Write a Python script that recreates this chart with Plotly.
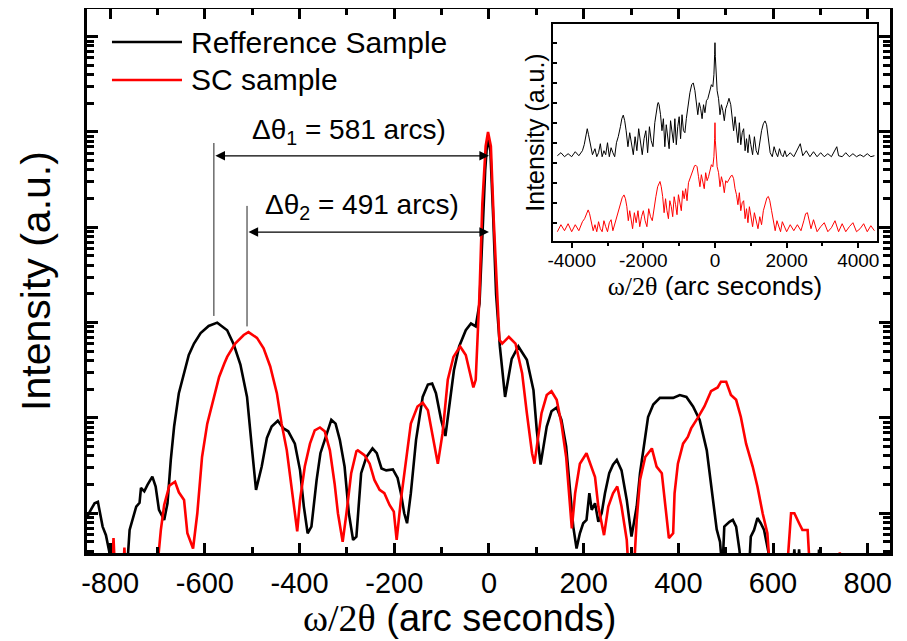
import plotly.graph_objects as go

# ---------------- main panel data (x in arc seconds, log10 intensity) ----------------
ref_x = [-849, -845, -833, -826, -816, -809, -802, -797, -766, -759, -745, -738, -735, -728, -721,
         -711, -704, -697, -686, -679, -672, -665, -655, -644, -634, -623, -609, -592, -574,
         -553, -539, -525, -511, -501, -492, -480, -469, -459, -446, -434, -424, -410, -399,
         -391, -383, -375, -364, -356, -343, -333, -324, -315, -305, -296, -287, -280, -270,
         -259, -246, -237, -227, -217, -203, -193, -186, -179, -173, -165, -154, -140, -129,
         -120, -112, -101, -92, -84, -74, -63, -49, -38, -28, -20, -14, -8, -3, 3, 9, 15, 23,
         34, 48, 62, 80, 94, 101, 109, 122, 132, 143, 153, 163, 171, 178, 185, 192, 199, 206,
         212, 217, 224, 231, 238, 245, 254, 262, 270, 280, 291, 301, 312, 319, 330, 336, 347,
         361, 375, 389, 403, 417, 431, 445, 460, 470, 481, 488, 493, 497, 508, 515, 522, 529,
         535, 548, 553, 560, 567, 574, 581, 590, 596, 640, 645, 650, 655, 660, 695, 697, 700,
         847]
ref_log = [-0.05, 0.0, 0.105, 0.12, -0.14, -0.23, -0.40, -0.7, -0.7, -0.175, 0.07, 0.11, 0.265, 0.23, 0.30,
           0.385, 0.28, 0.035, -0.07, 0.105, 0.56, 0.91, 1.26, 1.47, 1.66, 1.78, 1.89, 1.965, 2.0,
           1.92, 1.77, 1.56, 1.22, 0.70, 0.245, 0.49, 0.79, 0.91, 0.97, 0.89, 0.86, 0.73, 0.45,
           0.07, -0.21, -0.14, 0.35, 0.63, 0.84, 0.98, 0.94, 0.77, 0.49, 0.0, -0.28, -0.245, 0.42,
           0.59, 0.68, 0.63, 0.47, 0.45, 0.46, 0.37, 0.21, 0.0, -0.105, 0.21, 0.77, 1.22, 1.35,
           1.36, 1.26, 0.98, 0.81, 1.12, 1.50, 1.75, 1.92, 1.99, 1.96, 2.2, 3.0, 3.6, 3.95, 3.8, 3.1, 2.3, 1.75,
           1.22, 1.62, 1.75, 1.61, 1.29, 0.87, 0.51, 0.91, 1.07, 1.11, 0.98, 0.70, 0.28, -0.14, -0.37, -0.21, -0.105, -0.07,
           0.21, 0.035, 0.105, -0.09, 0.0, 0.21, 0.42, 0.51, 0.56, 0.45, 0.14, -0.245, 0.07, 0.42, 0.80, 1.01, 1.14,
           1.21, 1.21, 1.21, 1.24, 1.22, 1.12, 0.98, 0.66, 0.25, -0.17, -0.30, -0.6, -0.14, -0.09, -0.07, -0.14, -0.385,
           -0.7, -0.7, -0.245, -0.175, -0.05, -0.105, -0.175, -0.40, -0.7, -0.7, -0.38, -0.7, -0.38, -0.7, -0.7, -0.38, -0.7,
           -0.7]

sc_x = [-849, -797, -793, -789, -773, -770, -767, -703, -693, -686, -675, -663, -655, -644, -637, -625,
        -616, -606, -595, -581, -570, -559, -553, -536, -518, -508, -490, -476, -462, -448, -438,
        -427, -417, -410, -405, -399, -389, -378, -368, -357, -347, -336, -326, -319, -309, -301,
        -291, -280, -277, -263, -252, -242, -231, -221, -210, -201, -195, -186, -175, -165, -151,
        -140, -129, -119, -108, -98, -87, -75, -61, -49, -38, -33, -28, -24, -20, -14, -7, -2, 4,
        10, 16, 22, 28, 42, 56, 70, 80, 91, 96, 104, 111, 122, 132, 143, 153, 163, 170, 175, 182,
        192, 206, 217, 224, 231, 243, 252, 262, 271, 280, 291, 296, 305, 312, 319, 330, 344, 354,
        365, 372, 380, 389, 392, 399, 410, 420, 427, 441, 455, 469, 483, 490, 501, 511, 522, 532,
        543, 557, 567, 578, 583, 588, 595, 628, 638, 645, 655, 662, 673, 679, 738, 741, 744, 847]
sc_log = [-0.7, -0.7, -0.26, -0.7, -0.7, -0.36, -0.7, -0.7, -0.175, 0.087, 0.29, 0.33, 0.22, 0.14, -0.21, -0.37,
          0.0, 0.59, 0.94, 1.22, 1.43, 1.57, 1.64, 1.78, 1.87, 1.90, 1.84, 1.73, 1.54, 1.26, 0.94,
          0.66, 0.28, -0.035, -0.19, 0.14, 0.49, 0.73, 0.87, 0.90, 0.86, 0.66, 0.31, 0.0, -0.30, 0.0,
          0.42, 0.65, 0.66, 0.61, 0.52, 0.35, 0.245, 0.21, 0.087, 0.017, -0.28, 0.14, 0.59, 0.94, 1.12,
          1.16, 1.08, 0.80, 0.52, 0.84, 1.40, 1.64, 1.75, 1.66, 1.43, 1.32, 1.40, 1.8, 2.3, 3.25, 3.85, 4.0, 3.85,
          3.08, 2.38, 1.82, 1.78, 1.85, 1.78, 1.47, 1.05, 0.63, 0.52, 0.80, 1.05, 1.24, 1.28, 1.19, 0.94, 0.59, 0.17, -0.16, 0.21,
          0.52, 0.63, 0.49, 0.38, 0.07, -0.23, 0.07, 0.21, 0.28, 0.07, -0.28, -0.7, -0.7, -0.07, 0.35, 0.59, 0.68, 0.49,
          0.42, 0.07, -0.26, -0.21, 0.21, 0.52, 0.73, 0.80, 0.89, 1.0, 1.12, 1.28, 1.32, 1.38, 1.38, 1.24, 1.19, 1.01,
          0.73, 0.49, 0.28, 0.0, -0.09, -0.21, -0.7, -0.7, 0.0, 0.0, -0.105, -0.175, -0.175, -0.7, -0.7, -0.41, -0.7, -0.7]

# ---------------- inset data (x in arc seconds, log10 intensity, offset curves) ----------------
in_ref_x = [-4400, -4300, -4200, -4100, -4000, -3900, -3800, -3700, -3650, -3600, -3565, -3530, -3480, -3420,
            -3350, -3300, -3250, -3200, -3150, -3100, -3050, -3000, -2950, -2900, -2850, -2800, -2750, -2700,
            -2640, -2600, -2560, -2520, -2480, -2430, -2380, -2330, -2280, -2230, -2180, -2130, -2080, -2030,
            -1980, -1930, -1880, -1830, -1780, -1730, -1680, -1640, -1600, -1584, -1560, -1520, -1480, -1440,
            -1400, -1360, -1320, -1280, -1240, -1200, -1160, -1120, -1080, -1040, -1000, -960, -920, -880,
            -840, -800, -760, -700, -650, -606, -560, -520, -480, -440, -400, -360, -320, -280, -240, -200,
            -150, -100, -60, -30, -10, 0, 10, 30, 60, 100, 140, 180, 220, 260, 300, 340, 391, 440, 480, 520,
            560, 600, 640, 680, 720, 760, 800, 840, 880, 920, 960, 1000, 1050, 1100, 1150, 1200, 1250, 1300,
            1350, 1397, 1440, 1490, 1540, 1600, 1650, 1700, 1750, 1800, 1850, 1900, 1950, 2000, 2100, 2200,
            2300, 2380, 2450, 2550, 2650, 2750, 2850, 2950, 3050, 3150, 3250, 3350, 3400, 3450, 3550, 3650,
            3750, 3850, 3950, 4050, 4150, 4250, 4350, 4450]
in_ref_log = [3.35, 3.5, 3.3, 3.45, 3.3, 3.55, 3.35, 3.6, 3.9, 4.4, 4.7, 4.4, 3.9, 3.4,
              3.7, 3.3, 3.5, 3.95, 3.3, 3.6, 3.4, 4.0, 3.3, 3.75, 3.5, 3.3, 4.0, 4.3,
              4.8, 5.2, 5.38, 5.1, 4.6, 3.8, 4.5, 4.0, 3.4, 4.3, 3.6, 4.7, 3.9, 3.4,
              4.2, 4.6, 3.5, 4.8, 4.1, 3.8, 5.0, 5.6, 5.95, 6.01, 5.9, 5.4, 4.6, 5.2,
              3.8, 4.9, 4.4, 3.7, 5.1, 4.6, 4.0, 5.2, 3.9, 4.8, 5.3, 4.2, 5.4, 4.6,
              4.5, 5.2, 5.8, 6.5, 6.9, 6.99, 6.6, 5.8, 5.4, 6.0, 5.7, 5.2, 5.9, 5.5, 6.1, 6.2,
              6.6, 6.9, 6.8, 7.4, 8.4, 9.0, 8.3, 7.3, 6.6, 6.2, 5.4, 5.9, 5.6, 5.1, 5.7, 5.9, 6.22, 5.9, 5.1, 4.6,
              5.3, 4.6, 4.0, 5.0, 3.9, 4.5, 4.7, 3.6, 4.2, 3.5, 4.4, 3.9, 3.4, 4.3, 3.6, 3.4, 4.1, 4.6,
              4.95, 5.09, 4.9, 4.3, 3.5, 3.3, 3.8, 3.5, 3.3, 3.7, 3.4, 3.3, 3.6, 3.3, 3.5, 3.3,
              3.7, 3.95, 3.35, 3.6, 3.3, 3.55, 3.3, 3.5, 3.3, 3.45, 3.3, 3.6, 3.8, 3.35, 3.3, 3.5,
              3.3, 3.45, 3.3, 3.4, 3.3, 3.45, 3.3, 3.35]

in_sc_x = [-4400, -4300, -4200, -4100, -4000, -3900, -3800, -3700, -3640, -3580, -3540, -3500, -3450, -3400,
           -3350, -3300, -3250, -3200, -3150, -3100, -3050, -3000, -2950, -2900, -2850, -2800, -2750, -2700,
           -2640, -2590, -2540, -2500, -2460, -2420, -2380, -2340, -2300, -2250, -2200, -2150, -2100, -2050,
           -2000, -1950, -1900, -1850, -1800, -1750, -1700, -1650, -1600, -1560, -1535, -1500, -1460, -1420,
           -1380, -1340, -1300, -1260, -1220, -1180, -1140, -1100, -1060, -1020, -980, -940, -900, -860,
           -820, -780, -740, -680, -620, -570, -532, -500, -460, -420, -380, -340, -300, -260, -220, -180,
           -140, -100, -60, -30, -10, 0, 10, 30, 60, 100, 140, 180, 220, 260, 300, 340, 400, 450, 482, 520,
           560, 600, 640, 680, 720, 760, 800, 840, 880, 920, 960, 1000, 1050, 1100, 1150, 1200, 1250, 1300,
           1350, 1400, 1450, 1490, 1530, 1580, 1630, 1680, 1730, 1780, 1830, 1880, 1950, 2000, 2100, 2200,
           2300, 2400, 2480, 2530, 2580, 2620, 2680, 2750, 2850, 2950, 3050, 3150, 3250, 3350, 3450, 3550,
           3650, 3750, 3850, 3950, 4050, 4150, 4250, 4350, 4450]
in_sc_log = [-0.45, -0.1, -0.4, -0.05, -0.45, -0.1, -0.4, 0.05, 0.2, 0.5, 0.64, 0.45, 0.1, -0.4,
             -0.1, -0.45, 0.05, -0.3, -0.45, 0.1, -0.2, -0.45, 0.0, 0.15, -0.4, -0.1, 0.3, 0.5,
             0.9, 1.25, 1.39, 1.2, 0.8, 0.1, 0.6, 0.2, -0.3, 0.5, 0.0, 0.6, -0.2, 0.3,
             0.6, 0.1, -0.2, 0.7, 0.3, 0.1, 0.8, 1.3, 1.8, 2.0, 2.06, 1.8, 1.3, 0.5,
             1.2, 0.6, 0.2, 1.1, 0.8, 0.3, 1.3, 0.9, 0.4, 1.4, 1.0, 0.6, 1.6, 1.2,
             1.7, 1.1, 2.0, 2.3, 2.7, 2.85, 2.87, 2.8, 2.3, 1.8, 2.4, 2.0, 1.7, 2.5, 2.1, 2.3,
             2.6, 2.9, 2.8, 3.3, 4.2, 5.0, 4.1, 3.2, 2.8, 2.5, 1.8, 2.3, 2.0, 1.5, 2.1, 2.0, 2.2, 2.35, 2.37, 2.2,
             1.7, 1.4, 0.9, 1.5, 0.6, 1.0, 1.1, 0.2, 0.7, 0.0, 0.8, 0.3, -0.2, 0.5, 0.1, -0.3, 0.3, -0.1,
             0.6, 1.0, 1.25, 1.31, 1.1, 0.6, 0.0, -0.4, 0.1, -0.2, -0.45, 0.05, -0.3, -0.45, -0.1, -0.4,
             -0.1, -0.4, 0.1, 0.45, 0.5, 0.2, -0.3, 0.15, -0.45, -0.2, 0.0, -0.45, -0.25, 0.1, -0.45, -0.05,
             -0.45, -0.2, 0.0, -0.45, -0.3, -0.05, -0.45, -0.15, -0.4]

x_tick_vals = [-800, -600, -400, -200, 0, 200, 400, 600, 800]
x_tick_text = ["-800", "-600", "-400", "-200", "0", "200", "400", "600", "800"]
x_minor_vals = [-700, -500, -300, -100, 100, 300, 500, 700]
in_tick_vals = [-4000, -2000, 0, 2000, 4000]
in_tick_text = ["-4000", "-2000", "0", "2000", "4000"]
in_minor_vals = [-3000, -1000, 1000, 3000]

series_names = ["Refference Sample", "SC sample"]
colors = ["#000000", "#ff0000"]

FONT = "Liberation Sans, Arial, sans-serif"
XTITLE = "<span style='font-family:Liberation Serif'>ω/2θ</span> (arc seconds)"

fig = go.Figure()
fig.add_trace(go.Scatter(x=ref_x, y=[10 ** v for v in ref_log], mode="lines",
                         line=dict(color=colors[0], width=2.6), name=series_names[0]))
fig.add_trace(go.Scatter(x=sc_x, y=[10 ** v for v in sc_log], mode="lines",
                         line=dict(color=colors[1], width=2.6), name=series_names[1]))
fig.add_trace(go.Scatter(x=in_ref_x, y=[10 ** v for v in in_ref_log], mode="lines",
                         line=dict(color=colors[0], width=1), xaxis="x2", yaxis="y2", showlegend=False))
fig.add_trace(go.Scatter(x=in_sc_x, y=[10 ** v for v in in_sc_log], mode="lines",
                         line=dict(color=colors[1], width=1), xaxis="x2", yaxis="y2", showlegend=False))

# The page body has an 8 px margin, so the figure is 8 px smaller and margins shifted by 8 px.
fig.update_layout(
    width=899, height=633,
    margin=dict(l=79, r=17, t=1, b=88),
    plot_bgcolor="white", paper_bgcolor="white",
    showlegend=False,
    font=dict(family=FONT, color="black"),
    xaxis=dict(range=[-849, 847], tickmode="array", tickvals=x_tick_vals, ticktext=x_tick_text,
               ticks="inside", ticklen=10, tickwidth=3, tickcolor="black",
               minor=dict(tickmode="array", tickvals=x_minor_vals, ticks="inside", ticklen=6,
                          tickwidth=2.5, tickcolor="black"),
               showline=True, linewidth=3, linecolor="black", mirror="ticks",
               showgrid=False, zeroline=False, automargin=False,
               tickfont=dict(size=29, family=FONT), ticklabelstandoff=2),
    yaxis=dict(type="log", range=[-0.417, 5.29], dtick=1, tick0=0,
               ticks="inside", ticklen=11, tickwidth=3, tickcolor="black",
               minor=dict(ticks="inside", dtick="D1", ticklen=7, tickwidth=2.5, tickcolor="black"),
               showticklabels=False, showline=True, linewidth=3, linecolor="black", mirror="ticks",
               showgrid=False, zeroline=False, automargin=False,
               title=dict(text="Intensity (a.u.)", font=dict(size=41, family=FONT), standoff=21)),
    xaxis2=dict(domain=[0.5807, 0.9834], anchor="y2", range=[-4513, 4513],
                tickmode="array", tickvals=in_tick_vals, ticktext=in_tick_text,
                ticks="outside", ticklen=5, tickwidth=2, tickcolor="black",
                minor=dict(tickmode="array", tickvals=in_minor_vals, ticks="outside", ticklen=3,
                           tickwidth=1.5, tickcolor="black"),
                showline=True, linewidth=2, linecolor="black", mirror=True,
                showgrid=False, zeroline=False, automargin=False,
                tickfont=dict(size=19, family=FONT), ticklabelstandoff=-4,
                title=dict(text=XTITLE, font=dict(size=26, family=FONT), standoff=2)),
    yaxis2=dict(domain=[0.5735, 0.9724], anchor="x2", type="log", range=[-0.915, 9.935],
                dtick=1, tick0=0, ticks="inside", ticklen=4, tickwidth=2, tickcolor="black",
                showticklabels=False, showline=True, linewidth=2, linecolor="black", mirror=True,
                showgrid=False, zeroline=False, automargin=False,
                title=dict(text="Intensity (a.u.)", font=dict(size=25, family=FONT), standoff=0)),
)

# main x-axis title (placed as in the reference, slightly left of the axis centre)
fig.add_annotation(xref="paper", yref="paper", x=0.4645, y=-0.12, text=XTITLE, showarrow=False,
                   xanchor="center", yanchor="middle", font=dict(size=38, family=FONT, color="black"))

# legend (drawn manually to match long sample lines)
for i, (name, col) in enumerate(zip(series_names, colors)):
    yy = [0.9393, 0.8695][i]
    fig.add_shape(type="line", xref="paper", yref="paper", x0=0.0311, x1=0.1183, y0=yy, y1=yy,
                  line=dict(color=col, width=2.6))
    fig.add_annotation(xref="paper", yref="paper", x=0.127, y=yy, text=name, showarrow=False,
                       xanchor="left", yanchor="middle", font=dict(size=30, family=FONT, color="black"))

# Δθ annotations (y in log10 units on the log axis)
peak_ref, peak_sc = -581, -511
fig.add_annotation(x=peak_ref, y=2.07, ax=peak_ref, ay=3.9, xref="x", yref="y", axref="x", ayref="y",
                   text="", showarrow=True, arrowhead=0, arrowwidth=1, arrowcolor="#222")
fig.add_annotation(x=0, y=3.75, ax=peak_ref, ay=3.75, xref="x", yref="y", axref="x", ayref="y",
                   text="", showarrow=True, arrowhead=2, startarrowhead=2, arrowside="end+start",
                   arrowwidth=1.2, arrowsize=1.6, startarrowsize=1.6, arrowcolor="black")
fig.add_annotation(x=-505, y=4.01, xref="x", yref="y", xanchor="left", yanchor="middle",
                   text="Δθ<sub>1</sub> = 581 arcs)", showarrow=False,
                   font=dict(size=28, family=FONT, color="black"))
fig.add_annotation(x=peak_sc, y=1.96, ax=peak_sc, ay=3.24, xref="x", yref="y", axref="x", ayref="y",
                   text="", showarrow=True, arrowhead=0, arrowwidth=1, arrowcolor="#222")
fig.add_annotation(x=0, y=2.95, ax=peak_sc, ay=2.95, xref="x", yref="y", axref="x", ayref="y",
                   text="", showarrow=True, arrowhead=2, startarrowhead=2, arrowside="end+start",
                   arrowwidth=1.2, arrowsize=1.6, startarrowsize=1.6, arrowcolor="black")
fig.add_annotation(x=-478, y=3.215, xref="x", yref="y", xanchor="left", yanchor="middle",
                   text="Δθ<sub>2</sub> = 491 arcs)", showarrow=False,
                   font=dict(size=28, family=FONT, color="black"))

fig.write_html("out.html")
